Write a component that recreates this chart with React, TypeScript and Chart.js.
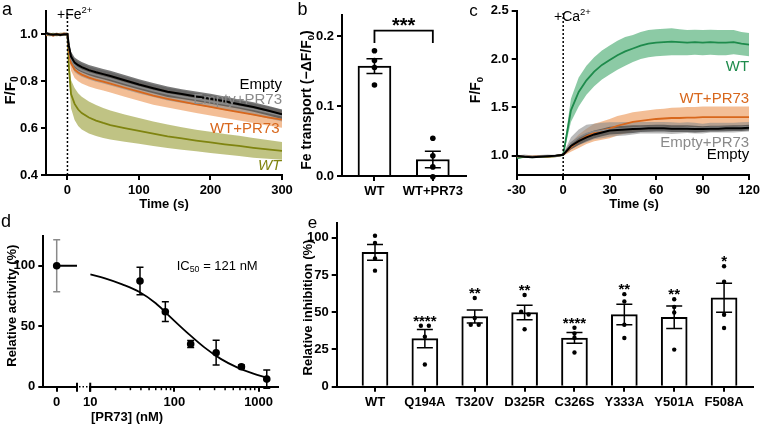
import React, { useEffect, useRef } from "react";
import { Chart, registerables } from "chart.js";

Chart.register(...registerables);

const FF = "'Liberation Sans', Arial, Helvetica, sans-serif";
Chart.defaults.font.family = FF;

// ---------------- Panel a: Fe2+ quench traces ----------------
const A_TIME = [-30, -25, -20, -15, -10, -5, 0, 2, 5, 10, 15, 20, 30, 40, 50, 60, 80, 100, 120, 140, 160, 180, 200, 220, 240, 260, 280, 300];
const A_EMPTY = [1.005, 1.0, 0.998, 1.0, 0.997, 1.0, 1.0, 0.95, 0.905, 0.879, 0.868, 0.86, 0.847, 0.838, 0.83, 0.822, 0.804, 0.786, 0.77, 0.755, 0.745, 0.735, 0.725, 0.714, 0.702, 0.69, 0.675, 0.659];
const A_EMPTY_SEM = [0.006, 0.006, 0.006, 0.006, 0.006, 0.006, 0.006, 0.015, 0.02, 0.022, 0.022, 0.022, 0.022, 0.022, 0.022, 0.022, 0.022, 0.022, 0.022, 0.022, 0.021, 0.021, 0.021, 0.021, 0.02, 0.02, 0.02, 0.02];
const A_EMPTY_PR73 = [1.0, 0.997, 1.0, 0.998, 1.0, 0.999, 1.0, 0.945, 0.895, 0.867, 0.855, 0.847, 0.835, 0.826, 0.818, 0.81, 0.792, 0.775, 0.759, 0.745, 0.734, 0.724, 0.714, 0.703, 0.692, 0.68, 0.667, 0.653];
const A_EMPTY_PR73_SEM = [0.006, 0.006, 0.006, 0.006, 0.006, 0.006, 0.006, 0.02, 0.026, 0.028, 0.028, 0.028, 0.028, 0.028, 0.028, 0.028, 0.028, 0.028, 0.027, 0.027, 0.027, 0.026, 0.026, 0.026, 0.025, 0.025, 0.025, 0.025];
const A_WT_PR73 = [0.997, 1.0, 0.995, 1.0, 0.998, 1.002, 1.0, 0.93, 0.877, 0.849, 0.837, 0.828, 0.815, 0.806, 0.798, 0.79, 0.772, 0.755, 0.738, 0.725, 0.713, 0.701, 0.69, 0.679, 0.668, 0.657, 0.646, 0.636];
const A_WT_PR73_SEM = [0.006, 0.006, 0.006, 0.006, 0.006, 0.006, 0.006, 0.025, 0.033, 0.036, 0.037, 0.038, 0.038, 0.038, 0.038, 0.038, 0.038, 0.038, 0.038, 0.037, 0.037, 0.037, 0.036, 0.036, 0.036, 0.035, 0.035, 0.035];
const A_WT = [1.0, 0.998, 1.0, 0.997, 1.0, 1.0, 1.0, 0.86, 0.745, 0.703, 0.679, 0.664, 0.645, 0.632, 0.622, 0.613, 0.6, 0.588, 0.576, 0.565, 0.556, 0.547, 0.539, 0.531, 0.524, 0.516, 0.509, 0.503];
const A_WT_SEM = [0.006, 0.006, 0.006, 0.006, 0.006, 0.006, 0.006, 0.04, 0.06, 0.068, 0.07, 0.07, 0.068, 0.066, 0.064, 0.062, 0.058, 0.055, 0.052, 0.05, 0.048, 0.046, 0.045, 0.044, 0.043, 0.042, 0.04, 0.038];
const A_X_TICKS = [0, 100, 200, 300];
const A_Y_TICKS = [0.4, 0.6, 0.8, 1.0];

// ---------------- Panel b: Fe transport bars ----------------
const B_CATS = ["WT", "WT+PR73"];
const B_MEAN = [0.157, 0.0236];
const B_SEM = [0.0105, 0.0118];
const B_POINTS = [
  [0.179, 0.165, 0.155, 0.13],
  [0.054, 0.029, 0.013, -0.001],
];
const B_Y_TICKS = [0, 0.1, 0.2];
const B_SIG = "***";

// ---------------- Panel c: Ca2+ traces ----------------
const C_TIME = [-30, -25, -20, -15, -10, -5, 0, 5, 10, 15, 20, 25, 30, 35, 40, 45, 50, 55, 60, 65, 70, 75, 80, 85, 90, 95, 100, 105, 110, 115, 120];
const C_WT = [0.975, 0.99, 0.985, 0.99, 0.99, 0.995, 1.01, 1.47, 1.66, 1.78, 1.87, 1.94, 1.99, 2.04, 2.08, 2.11, 2.14, 2.16, 2.17, 2.175, 2.18, 2.175, 2.17, 2.175, 2.17, 2.175, 2.17, 2.17, 2.175, 2.16, 2.15];
const C_WT_SEM = [0.012, 0.012, 0.012, 0.012, 0.012, 0.012, 0.012, 0.12, 0.15, 0.15, 0.15, 0.15, 0.15, 0.15, 0.15, 0.14, 0.14, 0.14, 0.14, 0.14, 0.14, 0.135, 0.13, 0.13, 0.13, 0.13, 0.13, 0.13, 0.125, 0.12, 0.12];
const C_WT_PR73 = [0.99, 0.995, 0.99, 0.995, 0.99, 0.995, 1.01, 1.09, 1.15, 1.2, 1.24, 1.26, 1.28, 1.31, 1.33, 1.35, 1.36, 1.37, 1.38, 1.385, 1.39, 1.39, 1.395, 1.395, 1.4, 1.4, 1.4, 1.4, 1.4, 1.4, 1.4];
const C_WT_PR73_SEM = [0.01, 0.01, 0.01, 0.01, 0.01, 0.01, 0.01, 0.05, 0.07, 0.08, 0.09, 0.095, 0.1, 0.1, 0.1, 0.1, 0.1, 0.1, 0.1, 0.1, 0.105, 0.11, 0.11, 0.11, 0.11, 0.11, 0.11, 0.11, 0.11, 0.11, 0.11];
const C_EMPTY = [1.0, 0.99, 0.985, 0.99, 0.995, 1.0, 1.01, 1.1, 1.15, 1.19, 1.22, 1.24, 1.26, 1.265, 1.27, 1.275, 1.28, 1.283, 1.285, 1.285, 1.28, 1.28, 1.28, 1.275, 1.275, 1.28, 1.28, 1.283, 1.285, 1.285, 1.29];
const C_EMPTY_SEM = [0.01, 0.01, 0.01, 0.01, 0.01, 0.01, 0.01, 0.035, 0.04, 0.04, 0.04, 0.04, 0.04, 0.04, 0.04, 0.04, 0.035, 0.035, 0.035, 0.035, 0.035, 0.035, 0.035, 0.035, 0.03, 0.03, 0.03, 0.03, 0.03, 0.03, 0.03];
const C_EMPTY_PR73 = [0.99, 1.0, 0.99, 0.995, 1.0, 0.995, 1.01, 1.13, 1.19, 1.23, 1.25, 1.26, 1.27, 1.275, 1.28, 1.285, 1.29, 1.29, 1.29, 1.29, 1.285, 1.285, 1.29, 1.285, 1.28, 1.29, 1.29, 1.29, 1.29, 1.295, 1.3];
const C_EMPTY_PR73_SEM = [0.012, 0.012, 0.012, 0.012, 0.012, 0.012, 0.012, 0.06, 0.08, 0.09, 0.08, 0.08, 0.075, 0.07, 0.07, 0.065, 0.06, 0.06, 0.06, 0.06, 0.06, 0.055, 0.055, 0.055, 0.05, 0.05, 0.05, 0.05, 0.05, 0.05, 0.05];
const C_X_TICKS = [-30, 0, 30, 60, 90, 120];
const C_Y_TICKS = [1.0, 1.5, 2.0, 2.5];

// ---------------- Panel d: dose response ----------------
const D_ZERO_ACT = 100;
const D_ZERO_SEM = 21.4;
const D_CONC = [39, 78, 156, 313, 625, 1250];
const D_ACT = [87.4, 62, 35.3, 28.1, 16.5, 6.3];
const D_SEM = [11.3, 8.2, 2.8, 10.2, 1.5, 7.6];
const D_FIT_CONC = [10, 15, 24, 38, 60, 93, 145, 227, 355, 555, 867, 1250];
const D_FIT_ACT = [92.8, 89.6, 84.6, 78.5, 69, 56.5, 44.1, 32.5, 23, 16, 10.8, 7.5];
const D_Y_TICKS = [0, 50, 100];
const D_X_TICKS = [10, 100, 1000];
const D_MINOR_TICKS = [20, 30, 40, 50, 60, 70, 80, 90, 200, 300, 400, 500, 600, 700, 800, 900];

// ---------------- Panel e: relative inhibition ----------------
const E_CATS = ["WT", "Q194A", "T320V", "D325R", "C326S", "Y333A", "Y501A", "F508A"];
const E_MEAN = [90.2, 32.3, 47.1, 49.8, 32.7, 48.4, 46.6, 59.7];
const E_SEM = [5.3, 6.1, 4.4, 4.8, 3.6, 6.9, 7.6, 9.7];
const E_POINTS = [
  [101.3, 96.4, 86, 77.9],
  [40.9, 40.9, 33.6, 14.9],
  [59.5, 46.1, 41.6, 41.6],
  [61.5, 50.3, 48.5, 38.6],
  [39.6, 35.7, 32.9, 23],
  [62.1, 57.2, 41.6, 32.7],
  [58.7, 53.5, 49.8, 24.9],
  [80.8, 70.4, 48.3, 39.4],
];
const E_JITTER = [
  [0, 0, 0, 0],
  [-0.08, 0.08, 0, 0],
  [0, 0, -0.08, 0.08],
  [0, -0.07, 0.08, 0],
  [0, 0, 0, 0],
  [0, 0, 0, 0],
  [0, 0, 0, 0],
  [0, 0, 0, 0],
];
const E_SIG = ["", "****", "**", "**", "****", "**", "**", "*"];
const E_Y_TICKS = [0, 25, 50, 75, 100];

// ---------------- colours ----------------
const COL_BLACK = "#000000";
const COL_GRAY = "#8a8a8a";
const COL_ORANGE = "#D8671C";
const COL_OLIVE = "#7F8410";
const COL_GREEN = "#1E8B4C";
const BAND_EMPTY = "rgba(70,70,70,0.72)";
const BAND_EMPTY_PR = "rgba(140,140,140,0.6)";
const BAND_ORANGE = "rgba(236,150,85,0.62)";
const BAND_OLIVE = "rgba(150,155,50,0.6)";
const BAND_GREEN = "rgba(70,170,110,0.62)";

// ---------------- helpers ----------------
type Seg = { t: string; s?: "sup" | "sub" };
type TextItem = {
  segs: Seg[];
  x: number;
  y: number;
  data?: boolean;
  size: number;
  bold?: boolean;
  italic?: boolean;
  color?: string;
  align?: "left" | "center" | "right";
  rotate?: boolean;
  shift?: number;
};
const T = (t: string): Seg[] => [{ t }];

function drawRich(ctx: CanvasRenderingContext2D, it: TextItem, x: number, y: number) {
  const size = it.size;
  const small = size * 0.68;
  const font = (sz: number) => `${it.italic ? "italic " : ""}${it.bold ? "bold " : ""}${sz}px ${FF}`;
  ctx.save();
  ctx.translate(x, y);
  if (it.rotate) ctx.rotate(-Math.PI / 2);
  const widths = it.segs.map((s) => {
    ctx.font = font(s.s ? small : size);
    return ctx.measureText(s.t).width;
  });
  const total = widths.reduce((a, b) => a + b, 0);
  const align = it.align ?? "center";
  let cx = align === "center" ? -total / 2 : align === "right" ? -total : 0;
  const base = size * 0.358 + (it.shift ?? 0);
  ctx.fillStyle = it.color ?? "#000";
  ctx.textAlign = "left";
  ctx.textBaseline = "alphabetic";
  it.segs.forEach((s, i) => {
    ctx.font = font(s.s ? small : size);
    const dy = s.s === "sup" ? base - size * 0.42 : s.s === "sub" ? base + size * 0.2 : base;
    ctx.fillText(s.t, cx, dy);
    cx += widths[i];
  });
  ctx.restore();
}

function textPlugin(id: string, items: TextItem[]) {
  return {
    id,
    afterDraw(chart: any) {
      const ctx = chart.ctx;
      items.forEach((it) => {
        const x = it.data ? chart.scales.x.getPixelForValue(it.x) : it.x;
        const y = it.data ? chart.scales.y.getPixelForValue(it.y) : it.y;
        drawRich(ctx, it, x, y);
      });
    },
  };
}

type EB = { x: number; lo: number; hi: number; color?: string };
function errorBarPlugin(id: string, bars: EB[], cap: number, lw: number, hook: "afterDatasetsDraw" | "beforeDatasetsDraw") {
  return {
    id,
    [hook](chart: any) {
      const ctx = chart.ctx;
      const xs = chart.scales.x;
      const ys = chart.scales.y;
      ctx.save();
      ctx.lineWidth = lw;
      bars.forEach((b) => {
        ctx.strokeStyle = b.color ?? "#000";
        const px = xs.getPixelForValue(b.x);
        const p1 = ys.getPixelForValue(b.lo);
        const p2 = ys.getPixelForValue(b.hi);
        ctx.beginPath();
        ctx.moveTo(px, p1);
        ctx.lineTo(px, p2);
        ctx.moveTo(px - cap / 2, p1);
        ctx.lineTo(px + cap / 2, p1);
        ctx.moveTo(px - cap / 2, p2);
        ctx.lineTo(px + cap / 2, p2);
        ctx.stroke();
      });
      ctx.restore();
    },
  };
}

function axis(o: {
  min: number;
  max: number;
  ticks: number[];
  size: number;
  horizontal: boolean;
  type?: string;
  fmt?: (v: number) => string;
  display?: boolean;
  font?: number;
  pad?: number;
}) {
  return {
    type: o.type ?? "linear",
    display: o.display ?? true,
    min: o.min,
    max: o.max,
    bounds: "data",
    offset: false,
    afterBuildTicks: (s: any) => {
      s.ticks = o.ticks.map((v) => ({ value: v }));
    },
    afterFit: (s: any) => {
      if (o.horizontal) s.height = o.size;
      else s.width = o.size;
    },
    border: { display: true, color: "#000", width: 2 },
    grid: { display: true, drawOnChartArea: false, drawTicks: true, tickLength: 5, color: "#000", lineWidth: 2, offset: false },
    ticks: {
      color: "#000",
      font: { family: FF, size: o.font ?? 13, weight: "bold" },
      padding: o.pad ?? 3,
      autoSkip: false,
      maxRotation: 0,
      minRotation: 0,
      callback: (v: any) => (o.fmt ? o.fmt(Number(v)) : String(v)),
    },
    title: { display: false },
  };
}

const xy = (xs: number[], ys: number[]) => xs.map((x, i) => ({ x, y: ys[i] }));

function lineSet(xs: number[], ys: number[], color: string, w = 1.8) {
  return { type: "line", data: xy(xs, ys), borderColor: color, borderWidth: w, pointRadius: 0, fill: false, tension: 0 };
}
function bandSets(xs: number[], mean: number[], sem: number[], color: string) {
  return [
    { type: "line", data: xy(xs, mean.map((m, i) => m + sem[i])), fill: "+1", backgroundColor: color, borderWidth: 0, pointRadius: 0 },
    { type: "line", data: xy(xs, mean.map((m, i) => m - sem[i])), fill: false, borderWidth: 0, pointRadius: 0 },
  ];
}

const baseOptions = (padding: any) => ({
  responsive: false,
  maintainAspectRatio: false,
  animation: false,
  events: [],
  layout: { padding },
  plugins: { legend: { display: false }, tooltip: { enabled: false } },
});

// ---------------- chart configs ----------------
function configA() {
  const datasets: any[] = [
    { type: "line", data: [{ x: 0, y: 0.4 }, { x: 0, y: 1.1 }], borderColor: "#000", borderWidth: 1.5, borderDash: [2, 2], pointRadius: 0, fill: false },
    lineSet(A_TIME, A_EMPTY, COL_BLACK, 2),
    lineSet(A_TIME, A_EMPTY_PR73, COL_GRAY, 1.6),
    lineSet(A_TIME, A_WT_PR73, COL_ORANGE, 1.8),
    lineSet(A_TIME, A_WT, COL_OLIVE, 1.8),
    ...bandSets(A_TIME, A_EMPTY, A_EMPTY_SEM, BAND_EMPTY),
    ...bandSets(A_TIME, A_EMPTY_PR73, A_EMPTY_PR73_SEM, BAND_EMPTY_PR),
    ...bandSets(A_TIME, A_WT_PR73, A_WT_PR73_SEM, BAND_ORANGE),
    ...bandSets(A_TIME, A_WT, A_WT_SEM, BAND_OLIVE),
  ];
  const texts: TextItem[] = [
    { segs: T("a"), x: 7, y: 9, size: 18 },
    { segs: [{ t: "+Fe" }, { t: "2+", s: "sup" }], x: 57, y: 14, size: 14, align: "left" },
    { segs: T("Empty"), x: 300, y: 0.791, data: true, size: 15, align: "right", color: COL_BLACK },
    { segs: T("Empty+PR73"), x: 300, y: 0.725, data: true, size: 15, align: "right", color: COL_GRAY },
    { segs: T("WT+PR73"), x: 296.5, y: 0.601, data: true, size: 15, align: "right", color: COL_ORANGE },
    { segs: T("WT"), x: 299, y: 0.443, data: true, size: 15, align: "right", color: COL_OLIVE, italic: true },
    { segs: [{ t: "F/F" }, { t: "0", s: "sub" }], x: 10, y: 90.5, size: 15, bold: true, rotate: true },
    { segs: T("Time (s)"), x: 164, y: 203, size: 13, bold: true },
  ];
  return {
    type: "line",
    data: { datasets },
    options: {
      ...baseOptions({ left: 0, top: 6, right: 18, bottom: 0 }),
      scales: {
        x: axis({ min: -30, max: 300, ticks: A_X_TICKS, size: 37, horizontal: true }),
        y: axis({ min: 0.4, max: 1.1, ticks: A_Y_TICKS, size: 46, horizontal: false, fmt: (v) => v.toFixed(1) }),
      },
    },
    plugins: [textPlugin("ta", texts)],
  };
}

function configB() {
  const pts: any[] = [];
  B_POINTS.forEach((arr, i) => arr.forEach((y) => pts.push({ x: i, y })));
  const bars = B_MEAN.map((m, i) => ({ x: i, lo: m - B_SEM[i], hi: m + B_SEM[i] }));
  const bracketTop = 0.2076;
  const bracketLeg = 0.19;
  const bracket = {
    id: "bracket",
    afterDatasetsDraw(chart: any) {
      const xs = chart.scales.x;
      const ys = chart.scales.y;
      const ctx = chart.ctx;
      const x0 = xs.getPixelForValue(0);
      const x1 = xs.getPixelForValue(1);
      const yt = ys.getPixelForValue(bracketTop);
      const yb = ys.getPixelForValue(bracketLeg);
      ctx.save();
      ctx.strokeStyle = "#000";
      ctx.lineWidth = 1.8;
      ctx.beginPath();
      ctx.moveTo(x0, yb);
      ctx.lineTo(x0, yt);
      ctx.lineTo(x1, yt);
      ctx.lineTo(x1, yb);
      ctx.stroke();
      ctx.restore();
    },
  };
  const texts: TextItem[] = [
    { segs: T("b"), x: 7.5, y: 9, size: 18 },
    { segs: T(B_SIG), x: 0.5, y: 0.222, data: true, size: 20, bold: true, shift: 4 },
    { segs: [{ t: "Fe transport (\u2212\u0394F/F" }, { t: "0", s: "sub" }, { t: ")" }], x: 11, y: 100, size: 14, bold: true, rotate: true },
  ];
  return {
    type: "bar",
    data: {
      datasets: [
        { type: "scatter", data: pts, pointRadius: 2.8, pointBackgroundColor: "#000", pointBorderWidth: 0, clip: false },
        { type: "bar", data: B_MEAN.map((y, i) => ({ x: i, y })), backgroundColor: "#fff", borderColor: "#000", borderWidth: 2, barThickness: 33 },
      ],
    },
    options: {
      ...baseOptions({ left: 0, top: 15, right: 2, bottom: 0 }),
      scales: {
        x: axis({ min: -0.556, max: 1.568, ticks: [0, 1], size: 36, horizontal: true, fmt: (v) => B_CATS[Math.round(v)] }),
        y: axis({ min: 0, max: 0.23, ticks: B_Y_TICKS, size: 47, horizontal: false, fmt: (v) => v.toFixed(1) }),
      },
    },
    plugins: [bracket, errorBarPlugin("ebb", bars, 16, 1.6, "afterDatasetsDraw"), textPlugin("tb", texts)],
  };
}

function configC() {
  const datasets: any[] = [
    { type: "line", data: [{ x: 0, y: 0.8 }, { x: 0, y: 2.5 }], borderColor: "#000", borderWidth: 1.5, borderDash: [2, 2], pointRadius: 0, fill: false },
    lineSet(C_TIME, C_EMPTY, COL_BLACK, 2),
    lineSet(C_TIME, C_EMPTY_PR73, COL_GRAY, 1.6),
    lineSet(C_TIME, C_WT_PR73, COL_ORANGE, 1.8),
    lineSet(C_TIME, C_WT, COL_GREEN, 1.8),
    ...bandSets(C_TIME, C_EMPTY, C_EMPTY_SEM, BAND_EMPTY),
    ...bandSets(C_TIME, C_EMPTY_PR73, C_EMPTY_PR73_SEM, BAND_EMPTY_PR),
    ...bandSets(C_TIME, C_WT_PR73, C_WT_PR73_SEM, BAND_ORANGE),
    ...bandSets(C_TIME, C_WT, C_WT_SEM, BAND_GREEN),
  ];
  const texts: TextItem[] = [
    { segs: T("c"), x: 13.5, y: 10, size: 17 },
    { segs: [{ t: "+Ca" }, { t: "2+", s: "sup" }], x: 94, y: 16, size: 14, align: "left" },
    { segs: T("WT"), x: 120, y: 1.935, data: true, size: 15, align: "right", color: COL_GREEN },
    { segs: T("WT+PR73"), x: 120, y: 1.603, data: true, size: 15, align: "right", color: COL_ORANGE },
    { segs: T("Empty+PR73"), x: 120, y: 1.147, data: true, size: 15, align: "right", color: COL_GRAY },
    { segs: T("Empty"), x: 120, y: 1.02, data: true, size: 15, align: "right", color: COL_BLACK },
    { segs: [{ t: "F/F" }, { t: "0", s: "sub" }], x: 15, y: 90, size: 14, bold: true, rotate: true },
    { segs: T("Time (s)"), x: 174, y: 203, size: 13, bold: true },
  ];
  return {
    type: "line",
    data: { datasets },
    options: {
      ...baseOptions({ left: 0, top: 10, right: 11.3, bottom: 0 }),
      scales: {
        x: axis({ min: -30, max: 120, ticks: C_X_TICKS, size: 37, horizontal: true }),
        y: axis({ min: 0.8, max: 2.5, ticks: C_Y_TICKS, size: 56.7, horizontal: false, fmt: (v) => v.toFixed(1) }),
      },
    },
    plugins: [textPlugin("tc", texts)],
  };
}

const D1_MIN = -1;
const D1_MAX = 1.515;

function configD1() {
  const decor = {
    id: "d1decor",
    afterDraw(chart: any) {
      const a = chart.chartArea;
      const ctx = chart.ctx;
      ctx.save();
      ctx.strokeStyle = "#000";
      ctx.lineWidth = 2;
      ctx.beginPath();
      ctx.moveTo(a.right, a.bottom - 4);
      ctx.lineTo(a.right, a.bottom + 5);
      ctx.stroke();
      ctx.lineWidth = 1.5;
      ctx.setLineDash([1.5, 2]);
      ctx.beginPath();
      ctx.moveTo(a.right + 2, a.bottom);
      ctx.lineTo(a.right + 13, a.bottom);
      ctx.stroke();
      ctx.restore();
    },
  };
  const texts: TextItem[] = [
    { segs: T("d"), x: 6, y: 11, size: 18 },
    { segs: T("Relative activity (%)"), x: 11, y: 95.7, size: 13, bold: true, rotate: true },
  ];
  return {
    type: "line",
    data: {
      datasets: [
        { type: "scatter", data: [{ x: 0, y: D_ZERO_ACT }], pointRadius: 3.8, pointBackgroundColor: "#000", pointBorderWidth: 0, clip: false },
        { type: "line", data: [{ x: 0, y: D_ZERO_ACT }, { x: D1_MAX, y: D_ZERO_ACT }], borderColor: "#000", borderWidth: 1.8, pointRadius: 0, fill: false },
      ],
    },
    options: {
      ...baseOptions({ left: 0, top: 25.5, right: 18, bottom: 0 }),
      scales: {
        x: axis({ min: D1_MIN, max: D1_MAX, ticks: [0], size: 39.3, horizontal: true }),
        y: axis({ min: 0, max: 125, ticks: D_Y_TICKS, size: 43.3, horizontal: false }),
      },
    },
    plugins: [
      errorBarPlugin("ebd1", [{ x: 0, lo: D_ZERO_ACT - D_ZERO_SEM, hi: D_ZERO_ACT + D_ZERO_SEM, color: "#8a8a8a" }], 7, 1.5, "beforeDatasetsDraw"),
      decor,
      textPlugin("td1", texts),
    ],
  };
}

function configD2() {
  const decor = {
    id: "d2decor",
    afterDraw(chart: any) {
      const a = chart.chartArea;
      const xs = chart.scales.x;
      const ctx = chart.ctx;
      ctx.save();
      ctx.strokeStyle = "#000";
      ctx.lineWidth = 1.5;
      D_MINOR_TICKS.forEach((v) => {
        const px = xs.getPixelForValue(v);
        ctx.beginPath();
        ctx.moveTo(px, a.bottom);
        ctx.lineTo(px, a.bottom + 3.5);
        ctx.stroke();
      });
      ctx.lineWidth = 2;
      ctx.beginPath();
      ctx.moveTo(a.left, a.bottom - 4);
      ctx.lineTo(a.left, a.bottom + 5);
      ctx.stroke();
      ctx.restore();
    },
  };
  const texts: TextItem[] = [
    { segs: T("[PR73] (nM)"), x: 47, y: 206, size: 13, bold: true },
    { segs: [{ t: "IC" }, { t: "50", s: "sub" }, { t: " = 121 nM" }], x: 96.7, y: 55, size: 13, align: "left" },
  ];
  const bars = D_CONC.map((c, i) => ({ x: c, lo: D_ACT[i] - D_SEM[i], hi: D_ACT[i] + D_SEM[i] }));
  return {
    type: "line",
    data: {
      datasets: [
        { type: "scatter", data: xy(D_CONC, D_ACT), pointRadius: 3.8, pointBackgroundColor: "#000", pointBorderWidth: 0, clip: false },
        { type: "line", data: xy(D_FIT_CONC, D_FIT_ACT), borderColor: "#000", borderWidth: 1.8, pointRadius: 0, fill: false, tension: 0.4, cubicInterpolationMode: "monotone" },
      ],
    },
    options: {
      ...baseOptions({ left: 10, top: 25.5, right: 22, bottom: 0 }),
      scales: {
        x: axis({ type: "logarithmic", min: 10, max: 1700, ticks: D_X_TICKS, size: 39.3, horizontal: true }),
        y: axis({ min: 0, max: 125, ticks: D_Y_TICKS, size: 0, horizontal: false, display: false }),
      },
    },
    plugins: [errorBarPlugin("ebd2", bars, 7, 1.5, "beforeDatasetsDraw"), decor, textPlugin("td2", texts)],
  };
}

function configE() {
  const pts: any[] = [];
  E_POINTS.forEach((arr, i) => arr.forEach((y, j) => pts.push({ x: i + E_JITTER[i][j], y })));
  const bars = E_MEAN.map((m, i) => ({ x: i, lo: m - E_SEM[i], hi: m + E_SEM[i] }));
  const texts: TextItem[] = [
    { segs: T("e"), x: 12.5, y: 10, size: 17 },
    { segs: T("Relative inhibition (%)"), x: 7, y: 95.5, size: 13, bold: true, rotate: true },
  ];
  E_SIG.forEach((s, i) => {
    if (!s) return;
    texts.push({ segs: T(s), x: i, y: Math.max(...E_POINTS[i]) + 5.5, data: true, size: 15, bold: true, shift: 3 });
  });
  return {
    type: "bar",
    data: {
      datasets: [
        { type: "scatter", data: pts, pointRadius: 2.2, pointBackgroundColor: "#000", pointBorderWidth: 0, clip: false },
        { type: "bar", data: E_MEAN.map((y, i) => ({ x: i, y })), backgroundColor: "#fff", borderColor: "#000", borderWidth: 2, barThickness: 26 },
      ],
    },
    options: {
      ...baseOptions({ left: 0, top: 5.3, right: 10, bottom: 0 }),
      scales: {
        x: axis({ min: -0.768, max: 7.58, ticks: [0, 1, 2, 3, 4, 5, 6, 7], size: 39.3, horizontal: true, fmt: (v) => E_CATS[Math.round(v)] }),
        y: axis({ min: 0, max: 110, ticks: E_Y_TICKS, size: 36.7, horizontal: false }),
      },
    },
    plugins: [errorBarPlugin("ebe", bars, 16, 1.5, "afterDatasetsDraw"), textPlugin("te", texts)],
  };
}

// ---------------- components ----------------
function Panel({ left, top, width, height, make }: { left: number; top: number; width: number; height: number; make: () => any }) {
  const ref = useRef<HTMLCanvasElement>(null);
  useEffect(() => {
    const chart = new Chart(ref.current as HTMLCanvasElement, make() as any);
    return () => chart.destroy();
  }, []);
  return (
    <canvas
      ref={ref}
      width={width}
      height={height}
      style={{ position: "absolute", left, top, width, height, display: "block" }}
    />
  );
}

export default function App() {
  useEffect(() => {
    document.body.style.margin = "0";
  }, []);
  return (
    <div style={{ position: "fixed", left: 0, top: 0, width: 763, height: 426, background: "#fff", overflow: "hidden" }}>
      <Panel left={0} top={0} width={300} height={212} make={configA} />
      <Panel left={295} top={0} width={175} height={212} make={configB} />
      <Panel left={460} top={0} width={303} height={212} make={configC} />
      <Panel left={0} top={210} width={95} height={216} make={configD1} />
      <Panel left={80} top={210} width={220} height={216} make={configD2} />
      <Panel left={300} top={212} width={463} height={214} make={configE} />
    </div>
  );
}
